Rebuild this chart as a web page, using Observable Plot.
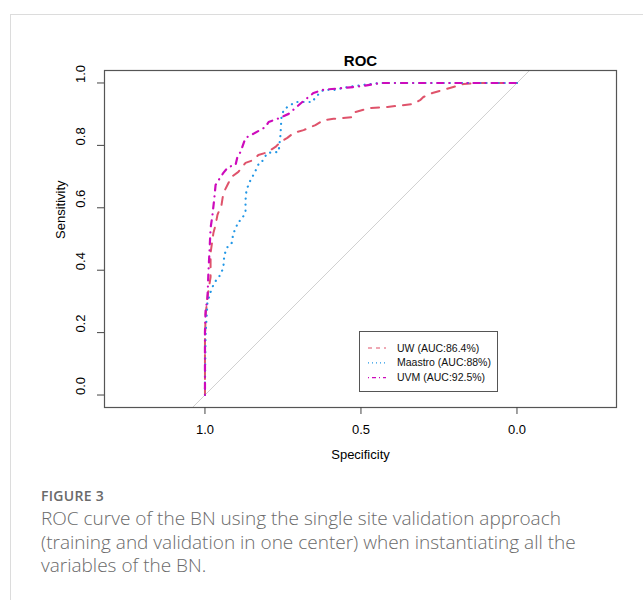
<!DOCTYPE html>
<html>
<head>
<meta charset="utf-8">
<script src="https://cdn.jsdelivr.net/npm/d3@7"></script>
<script src="https://cdn.jsdelivr.net/npm/@observablehq/plot@0.6"></script>
<style>
  html, body { margin: 0; padding: 0; background: #fff; }
  #page { position: relative; width: 643px; height: 600px; overflow: hidden; }
  #card { position: absolute; left: 10px; top: 14px; width: 640px; height: 600px;
          border-top: 1px solid #dcdcdc; border-left: 1px solid #dcdcdc; }
  #chart { position: absolute; left: 0; top: 0; }
  #figlabel { position: absolute; left: 41px; top: 486px; font-family: "Open Sans", sans-serif;
              font-size: 14px; font-weight: 600; color: #6a6a6a; letter-spacing: 0.3px; }
  #caption { position: absolute; left: 41px; top: 507px; font-family: "Open Sans", sans-serif;
             font-size: 19px; font-weight: 300; color: #6a6a6a; line-height: 23.5px; white-space: nowrap; }
</style>
</head>
<body>
<div id="page">
  <div id="card"></div>
  <div id="chart"></div>
  <div id="figlabel">FIGURE 3</div>
  <div id="caption">ROC curve of the BN using the single site validation approach<br>(training and validation in one center) when instantiating all the<br>variables of the BN.</div>
</div>
<script>
// ---- data ----
const seriesNames = ["UW (AUC:86.4%)", "Maastro (AUC:88%)", "UVM (AUC:92.5%)"];
const seriesColors = ["#DF536B", "#2297E6", "#CD0BBC"];

const uwSpec = [1, 1, 0.998, 0.992, 0.982, 0.982, 0.973, 0.966, 0.960, 0.947, 0.941, 0.928, 0.915, 0.893, 0.870, 0.845, 0.829, 0.806, 0.790, 0.774, 0.758, 0.736, 0.716, 0.684, 0.646, 0.620, 0.588, 0.524, 0.518, 0.470, 0.415, 0.332, 0.309, 0.300, 0.271, 0.236, 0.204, 0.171, 0.127, 0];
const uwSens = [0, 0.176, 0.256, 0.314, 0.378, 0.455, 0.519, 0.545, 0.577, 0.609, 0.647, 0.673, 0.699, 0.715, 0.744, 0.753, 0.769, 0.776, 0.785, 0.795, 0.811, 0.824, 0.840, 0.849, 0.865, 0.881, 0.885, 0.891, 0.907, 0.920, 0.923, 0.933, 0.946, 0.955, 0.968, 0.978, 0.987, 0.997, 1, 1];

const maastroSpec = [1, 1, 0.998, 0.992, 0.982, 0.973, 0.960, 0.950, 0.941, 0.938, 0.928, 0.915, 0.909, 0.899, 0.896, 0.883, 0.870, 0.870, 0.867, 0.854, 0.841, 0.825, 0.816, 0.800, 0.764, 0.758, 0.755, 0.748, 0.736, 0.710, 0.655, 0.646, 0.620, 0.585, 0.543, 0.492, 0.438, 0];
const maastroSens = [0, 0.042, 0.192, 0.298, 0.330, 0.353, 0.375, 0.385, 0.410, 0.449, 0.474, 0.484, 0.519, 0.538, 0.554, 0.561, 0.587, 0.625, 0.657, 0.689, 0.712, 0.747, 0.750, 0.776, 0.779, 0.833, 0.888, 0.913, 0.923, 0.939, 0.939, 0.955, 0.978, 0.978, 0.987, 0.994, 1, 1];

const uvmSpec = [1, 1, 0.998, 0.992, 0.989, 0.986, 0.982, 0.976, 0.970, 0.966, 0.960, 0.941, 0.925, 0.902, 0.896, 0.886, 0.870, 0.845, 0.806, 0.796, 0.768, 0.732, 0.710, 0.688, 0.652, 0.623, 0.556, 0.495, 0.438, 0];
const uvmSens = [0, 0.20, 0.27, 0.31, 0.39, 0.45, 0.535, 0.577, 0.631, 0.673, 0.683, 0.712, 0.731, 0.737, 0.763, 0.779, 0.824, 0.837, 0.859, 0.875, 0.885, 0.901, 0.920, 0.939, 0.968, 0.978, 0.984, 0.990, 1, 1];

const specTicks = [1.0, 0.5, 0.0];
const sensTicks = [0.0, 0.2, 0.4, 0.6, 0.8, 1.0];
const chanceSpec = [1.04, -0.04];
const chanceSens = [-0.04, 1.04];

// ---- build tables ----
const toRows = (spec, sens, name) => spec.map((s, i) => ({spec: s, sens: sens[i], name}));
const uw = toRows(uwSpec, uwSens, seriesNames[0]);
const maastro = toRows(maastroSpec, maastroSens, seriesNames[1]);
const uvm = toRows(uvmSpec, uvmSens, seriesNames[2]);
const chance = toRows(chanceSpec, chanceSens, "chance");

const dashes = ["8,8", "0.1,6", "0.1,6,6,6"];
const legendDashes = ["4,4", "1,3", "1,3,4,3"];
const font = "'Liberation Sans', Arial, sans-serif";
const fmt = d3.format(".1f");

const chart = Plot.plot({
  width: 643,
  height: 472,
  marginLeft: 104,
  marginRight: 27,
  marginTop: 70,
  marginBottom: 65,
  x: {domain: [1.322, -0.319]},
  y: {domain: [-0.04, 1.04]},
  style: {fontFamily: font, fontSize: "13px", color: "#000", background: "transparent"},
  marks: [
    Plot.line(chance, {x: "spec", y: "sens", stroke: "#d0d0d0", strokeWidth: 1}),
    Plot.line(uw, {x: "spec", y: "sens", stroke: seriesColors[0], strokeWidth: 2, strokeDasharray: dashes[0], strokeLinecap: "round"}),
    Plot.line(maastro, {x: "spec", y: "sens", stroke: seriesColors[1], strokeWidth: 2.2, strokeDasharray: dashes[1], strokeLinecap: "round"}),
    Plot.line(uvm, {x: "spec", y: "sens", stroke: seriesColors[2], strokeWidth: 2.2, strokeDasharray: dashes[2], strokeLinecap: "round"}),
    Plot.frame({stroke: "#555", strokeWidth: 1.2}),
    Plot.axisX(specTicks, {tickSize: 7, tickPadding: 10, tickFormat: fmt, label: null, fontSize: 13, stroke: "#444"}),
    Plot.axisY(sensTicks, {tickSize: 7, text: null, label: null, stroke: "#444"}),
    Plot.text(sensTicks, {y: d => d, text: d => fmt(d), frameAnchor: "left", dx: -24, rotate: -90, fontSize: 13}),
    Plot.text(["Specificity"], {frameAnchor: "bottom", dy: 51, fontSize: 13}),
    Plot.text(["Sensitivity"], {frameAnchor: "left", dx: -44, rotate: -90, fontSize: 13}),
    Plot.text(["ROC"], {frameAnchor: "top", dy: -15, fontSize: 15, fontWeight: "bold"})
  ]
});
document.getElementById("chart").appendChild(chart);

// ---- legend inside the plot frame (bottom right area) ----
const svg = d3.select(chart);
const lg = svg.append("g").attr("font-family", font).attr("font-size", 10.5).attr("text-anchor", "start");
const bx = 359, by = 331, bw = 138, bh = 60;
lg.append("rect").attr("x", bx + 0.5).attr("y", by + 0.5).attr("width", bw).attr("height", bh)
  .attr("fill", "#fff").attr("stroke", "#555").attr("stroke-width", 1);
seriesNames.forEach((name, i) => {
  const yy = by + 17 + i * 14.8;
  lg.append("line").attr("x1", bx + 9).attr("x2", bx + 27).attr("y1", yy).attr("y2", yy)
    .attr("stroke", seriesColors[i]).attr("stroke-width", 1.2).attr("stroke-dasharray", legendDashes[i]);
  lg.append("text").attr("x", bx + 38).attr("y", yy).attr("dy", "0.35em").attr("text-anchor", "start")
    .attr("fill", "#111").text(name);
});
</script>
</body>
</html>
